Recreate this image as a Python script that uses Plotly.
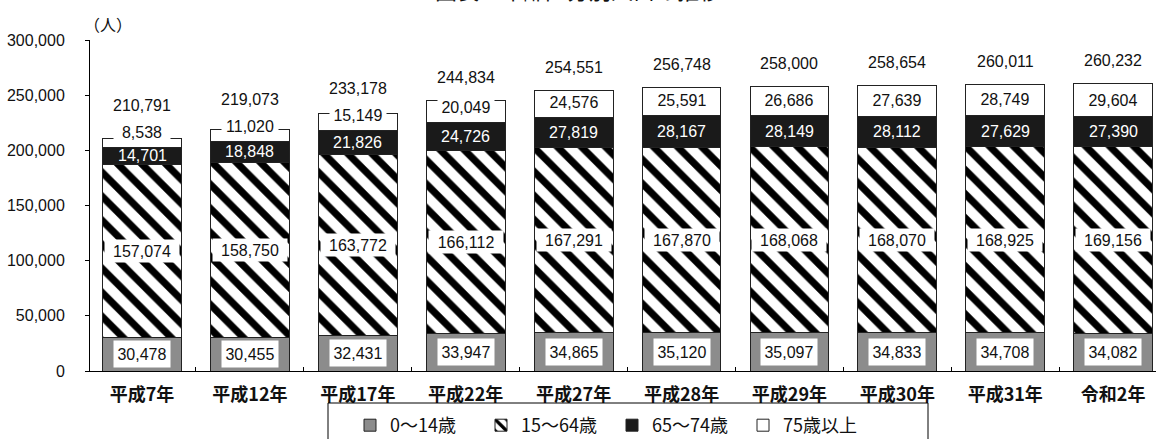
import plotly.graph_objects as go

years = ["平成7年", "平成12年", "平成17年", "平成22年", "平成27年",
         "平成28年", "平成29年", "平成30年", "平成31年", "令和2年"]
age0_14 = [30478, 30455, 32431, 33947, 34865, 35120, 35097, 34833, 34708, 34082]
age15_64 = [157074, 158750, 163772, 166112, 167291, 167870, 168068, 168070, 168925, 169156]
age65_74 = [14701, 18848, 21826, 24726, 27819, 28167, 28149, 28112, 27629, 27390]
age75 = [8538, 11020, 15149, 20049, 24576, 25591, 26686, 27639, 28749, 29604]
totals = [210791, 219073, 233178, 244834, 254551, 256748, 258000, 258654, 260011, 260232]
series_names = ["0～14歳", "15～64歳", "65～74歳", "75歳以上"]
title_text = "図表　年齢区分別人口の推移"
unit_text = "（人）"

W, H = 1156, 439
ML, MR, MT, MB = 90, 0, 40, 68
PLOT_H = H - MT - MB
PLOT_W = W - ML - MR
YMAX = 300000
K = PLOT_H / YMAX  # px per person


def py(px):
    """paper y for a pixel row"""
    return (MT + PLOT_H - px) / PLOT_H


def pxx(px):
    return (px - ML) / PLOT_W


NUM_FONT = "Liberation Sans, Arial, sans-serif"
JP_FONT = "Noto Sans CJK JP, sans-serif"
BAR_W = 0.73
NS = 16

fig = go.Figure()
line = dict(color="#222", width=1)
fig.add_bar(x=years, y=age0_14, name=series_names[0], width=BAR_W,
            marker=dict(color="#8c8c8c", line=line))
fig.add_bar(x=years, y=age15_64, name=series_names[1], width=BAR_W,
            marker=dict(color="white", line=line,
                        pattern=dict(shape="\\", fgcolor="black", bgcolor="white",
                                     fgopacity=1, size=17, solidity=0.42)))
fig.add_bar(x=years, y=age65_74, name=series_names[2], width=BAR_W,
            marker=dict(color="#1a1a1a", line=line))
fig.add_bar(x=years, y=age75, name=series_names[3], width=BAR_W,
            marker=dict(color="white", line=line))

ann = []
for i, yr in enumerate(years):
    a, b, c, d = age0_14[i], age15_64[i], age65_74[i], age75[i]
    ann.append(dict(x=yr, y=a / 2, text=f"{a:,}", showarrow=False,
                    font=dict(family=NUM_FONT, size=NS, color="#111"),
                    bgcolor="white", width=52, height=22, borderpad=2))
    ann.append(dict(x=yr, y=a + b / 2, text=f"{b:,}", showarrow=False,
                    font=dict(family=NUM_FONT, size=NS, color="#111"),
                    bgcolor="white", width=70, height=18, borderpad=2))
    ann.append(dict(x=yr, y=a + b + c / 2, text=f"{c:,}", showarrow=False,
                    font=dict(family=NUM_FONT, size=NS, color="white")))
    base = a + b + c
    ly = base + max(d / 2, 15 / K)
    outside = ly + 9 / K > base + d
    ann.append(dict(x=yr, y=ly, text=f"{d:,}", showarrow=False,
                    font=dict(family=NUM_FONT, size=NS, color="#111"),
                    bgcolor="white" if outside else "rgba(0,0,0,0)",
                    width=54, borderpad=1))
    ty = max(totals[i] + 23 / K, ly + 27 / K)
    ann.append(dict(x=yr, y=ty, text=f"{totals[i]:,}", showarrow=False,
                    font=dict(family=NUM_FONT, size=NS, color="#111")))

ann.append(dict(xref="paper", yref="paper", x=pxx(108), y=py(24),
                text=unit_text, showarrow=False, xanchor="center", yanchor="middle",
                font=dict(family=JP_FONT, size=16, color="#111")))
ann.append(dict(xref="paper", yref="paper", x=pxx(W / 2),
                y=py(-11), text=title_text, showarrow=False,
                xanchor="center", yanchor="middle",
                font=dict(family=JP_FONT, size=22, color="#111")))

fig.add_shape(type="rect", xref="paper", yref="paper",
              x0=pxx(328), x1=pxx(928), y0=py(403), y1=py(470),
              line=dict(color="black", width=1), fillcolor="rgba(0,0,0,0)")

fig.update_layout(
    width=W, height=H,
    barmode="stack",
    plot_bgcolor="white", paper_bgcolor="white",
    margin=dict(l=ML, r=MR, t=MT, b=MB, autoexpand=False),
    annotations=ann,
    showlegend=True,
    legend=dict(orientation="h", x=pxx(350), xanchor="left",
                y=py(407), yanchor="top",
                traceorder="normal", font=dict(family=JP_FONT, size=18, color="#111"),
                entrywidth=86, entrywidthmode="pixels", itemwidth=30,
                bgcolor="rgba(0,0,0,0)"),
    xaxis=dict(range=[-0.482, 9.397], showline=True, linecolor="black", linewidth=1,
               ticks="inside", tickson="boundaries", ticklen=4, tickcolor="black",
               showgrid=False, ticklabelstandoff=7,
               tickfont=dict(family=JP_FONT, size=18, color="#111", weight="bold")),
    yaxis=dict(range=[0, YMAX], dtick=50000, tickformat=",d", showline=True,
               linecolor="black", linewidth=1, ticks="outside", ticklen=4,
               tickcolor="black", showgrid=False, zeroline=False,
               ticklabelstandoff=17,
               tickfont=dict(family=NUM_FONT, size=NS, color="#111")),
)

fig.write_html("out.html")
